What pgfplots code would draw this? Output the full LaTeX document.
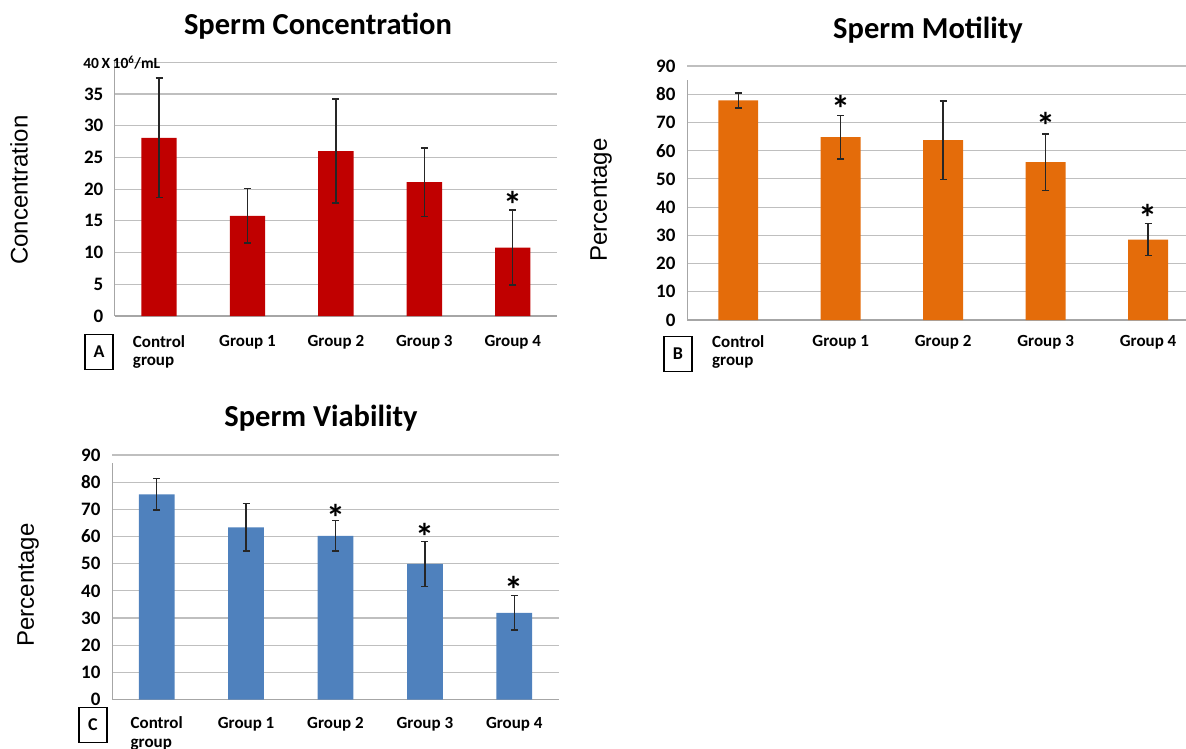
\documentclass[border=0pt]{standalone}
\usepackage{fontspec}
\setmainfont{Carlito}
\newfontfamily\arial{Liberation Sans}
\usepackage{pgfplots}
\pgfplotsset{compat=1.18}
\definecolor{cred}{HTML}{C00000}
\definecolor{corange}{HTML}{E46C0A}
\definecolor{cblue}{HTML}{4F81BD}
\definecolor{gridc}{HTML}{BFBFBF}
\definecolor{axc}{HTML}{A6A6A6}
\newcommand\tickfont{\bfseries\fontsize{17}{18.5}\selectfont}
\newcommand\ytickfont{\bfseries\fontsize{19}{20}\selectfont}
\pgfplotsset{
 panel/.style={
  scale only axis, anchor=south west,
  ybar, bar width=0.4,
  xmin=-0.5, xmax=4.5, ymin=0,
  xtick={0,1,2,3,4},
  xticklabels={{Control\\group},{Group 1},{Group 2},{Group 3},{Group 4}},
  xticklabel style={font=\tickfont, align=left, anchor=north, yshift=-16pt},
  yticklabel style={font=\ytickfont, anchor=east, xshift=-8pt},
  /pgf/number format/assume math mode=true,
  ymajorgrids, grid style={draw=gridc, line width=1.2pt},
  axis x line*=bottom, axis y line*=left,
  axis line style={draw=axc, line width=1.2pt, -},
  major tick length=0pt,
  enlargelimits=false,
 },
 ebars/.style={error bars/.cd, y dir=both, y explicit,
   error bar style={line width=1.4pt, draw=black!85},
   error mark options={rotate=90, mark size=3.5pt, line width=1.4pt, draw=black!85}},
}
\tikzset{star/.style={font=\bfseries\fontsize{38}{38}\selectfont, anchor=base, yshift=-19.5pt, inner sep=0pt},
  letterbox/.style={draw, line width=1.5pt, minimum width=28pt, minimum height=35pt, inner sep=0pt, font=\bfseries\fontsize{18}{18}\selectfont}}
\begin{document}
\begin{tikzpicture}[x=1pt,y=1pt]
\path[use as bounding box] (0,0) rectangle (1186,748);
% ---------- Panel A
\begin{axis}[panel, at={(114.8pt,432pt)}, width=442.2pt, height=253.7pt,
  ymax=40, ytick={0,5,...,40},
  yticklabels={0,5,10,15,20,25,30,35,{\makebox[0pt][l]{\hspace*{-20pt}\raisebox{-4pt}{\fontsize{15.5}{15.5}\selectfont 40\,X\,10\textsuperscript{6}/mL}}}}]
\addplot[fill=cred, draw=none, ebars] table[x=x,y=y,y error=e] {
x y e
0 28.1 9.4
1 15.8 4.3
2 26.0 8.2
3 21.1 5.4
4 10.8 5.9
};
\node[star] at (axis cs:4,18.4) {*};
\end{axis}
% ---------- Panel B
\begin{axis}[panel, at={(687pt,428pt)}, width=499pt, height=254pt,
  xmax=4.37, bar width=0.39,
  xticklabel style={yshift=4pt},
  y axis line style={draw=none},
  ymax=90, ytick={0,10,...,90}]
\draw[axc, line width=1.2pt] (axis cs:-0.5,0) -- (axis cs:-0.5,85);
\addplot[fill=corange, draw=none, ebars] table[x=x,y=y,y error=e] {
x y e
0 77.8 2.7
1 64.8 7.7
2 63.7 13.9
3 55.9 10.0
4 28.5 5.7
};
\node[star] at (axis cs:1,77.0) {*};
\node[star] at (axis cs:3,70.9) {*};
\node[star] at (axis cs:4,38.4) {*};
\end{axis}
% ---------- Panel C
\begin{axis}[panel, at={(112pt,48.5pt)}, width=447pt, height=244.5pt,
  xticklabel style={yshift=2pt},
  y axis line style={draw=none},
  ymax=90, ytick={0,10,...,90}]
\draw[axc, line width=1.2pt] (axis cs:-0.5,0) -- (axis cs:-0.5,87);
\addplot[fill=cblue, draw=none, ebars] table[x=x,y=y,y error=e] {
x y e
0 75.5 5.8
1 63.4 8.7
2 60.2 5.6
3 49.9 8.2
4 31.9 6.3
};
\node[star] at (axis cs:2,69.2) {*};
\node[star] at (axis cs:3,62.0) {*};
\node[star] at (axis cs:4,42.4) {*};
\end{axis}
% ---------- titles
\node[anchor=base, font=\bfseries\fontsize{30.5}{32}\selectfont] at (318,713) {Sperm Concentration};
\node[anchor=base, font=\bfseries\fontsize{30.5}{32}\selectfont] at (928,709) {Sperm Motility};
\node[anchor=base, font=\bfseries\fontsize{30.5}{32}\selectfont] at (321,321) {Sperm Viability};
% ---------- y labels
\node[rotate=90, font=\arial\fontsize{24}{24}\selectfont] at (19,558) {Concentration};
\node[rotate=90, font=\arial\fontsize{24}{24}\selectfont] at (601,548) {Percentage};
\node[rotate=90, font=\arial\fontsize{24}{24}\selectfont] at (28,163) {Percentage};
% ---------- panel letters
\node[letterbox] at (99,396) {A};
\node[letterbox] at (678,394) {B};
\node[letterbox] at (93,23) {C};
\end{tikzpicture}
\end{document}
